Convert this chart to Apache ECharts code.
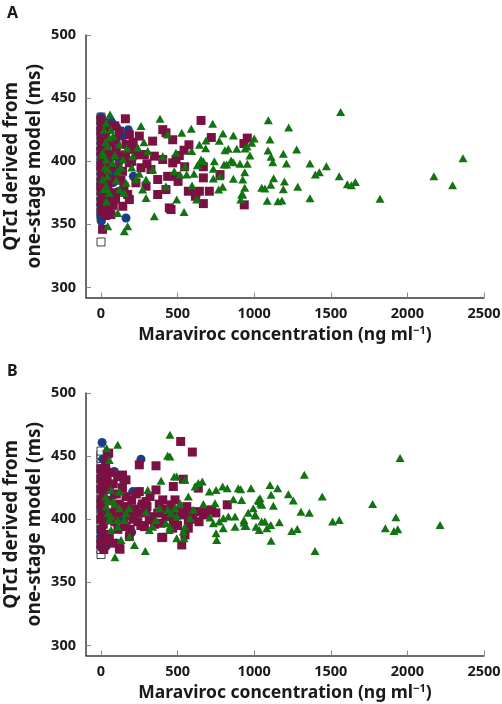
<!DOCTYPE html>
<html>
<head>
<meta charset="utf-8">
<script src="https://cdn.jsdelivr.net/npm/echarts@6/dist/echarts.min.js"></script>
<style>html,body{margin:0;padding:0;background:#fff}#c{width:502px;height:704px}</style>
</head>
<body>
<div id="c"></div>
<script>
// ---------- tick labels & titles ----------
const xTicks = [0, 500, 1000, 1500, 2000, 2500];
const yTicks = [300, 350, 400, 450, 500];
const yTitleLines = ['QTcI derived from', 'one-stage model (ms)'];
const panelLabels = ['A', 'B'];

// ---------- Panel A data [concentration, QTcI] ----------
const placeboA = [[0,336],[0,356],[0,360],[0,364],[0,368],[0,372],[0,376],[0,380],[0,384],[0,388],[0,392],[0,396],[0,400],[0,404],[0,408],[0,412],[0,416],[0,420],[0,424],[0,428],[0,432],[0,435]];
const blueA = [[0,435],[0,430],[0,425],[0,420],[0,415],[0,410],[0,405],[0,400],[0,395],[0,390],[0,385],[0,380],[0,375],[0,370],[0,365],[0,360],[0,356],[2,352.5],
  [30,431],[70,431],[102,427],[178,425],[144,420],[91,391],[102,385.5],[211,388],[113,376],[163,355],[120,400],[60,395],[80,383],[40,372]];
const maroonA = [[0,433],[5,428],[0,424],[10,420],[3,416],[15,412],[0,408],[8,404],[20,400],[0,396],[12,392],[4,388],[18,384],[0,380],[10,376],[25,372],[2,368],[15,364],[5,360],[30,357],[40,370],[45,380],[35,390],[50,400],[40,410],[30,420],[55,415],[60,405],[70,395],[65,385],[75,375],[80,365],[50,362],[10,346],[20,428],[40,425],
  [159,433.6],[37,425],[120,423.8],[185,421],[250,419.9],[337,415.9],[403,425],[424,422.5],[468,417],[163,413.3],[218,409.3],[283,405.3],[348,404],[403,401.3],[468,398.7],[131,404],[185,398.7],[261,394.8],[326,393.4],[370,385.5],[435,388],[424,377.5],[370,373.6],[294,380.2],[228,382.9],[174,373.6],[142,364.3],[185,369.6],[65,357.7],[446,363],[33,364.3],[54,385.5],[33,396],[22,411.9],[76,404],[98,417.2],[11,374.9],[87,372.2],
  [100,410],[140,392],[200,400],[240,405],[300,398],[150,380],[90,428],[110,395],[160,405],[210,415],[60,428],[130,385],[95,370],
  [653,432.3],[720,418.8],[955,418.3],[933,414],[574,413],[542,408.7],[511,404.5],[490,401.4],[546,395.6],[668,395.6],[777,389.4],[668,386.8],[490,388],[503,384],[570,376.2],[620,374.9],[642,376.2],[707,376.2],[616,372.2],[668,366.4],[935,365.4],[457,361.7]];
const greenA = [[1564,438.9],[1092,432.5],[1225,426.7],[1000,418],[1103,417.2],[1090,408.5],[1277,409.3],[1190,406],[1110,403.5],[1121,399.2],[1210,398.2],[1364,398.2],[1471,396],[2363,402.4],[1425,391.3],[1399,389.4],[1555,388],[2173,388],[1660,383.6],[1608,381.7],[1634,381],[2295,381],[1127,386.5],[1197,384],[1108,381.3],[1049,379],[1070,378.3],[1190,377.8],[1284,379.7],[1364,370.6],[1821,370.2],[1085,368.6],[1155,368.3],[1181,368.8],
  [940,410],[972,404.5],[955,398],[938,391.3],[925,385.5],[938,378.9],[918,373.6],[953,411.7],[984,414.6],
  [729,429.7],[589,425.7],[527,422.5],[796,422],[864,420.4],[685,416.4],[772,416.2],[642,413],[683,410.3],[831,409.9],[809,408.7],[886,409.9],[592,408],[740,400],[668,400],[653,401.3],[849,400.5],[864,399.2],[803,397.4],[820,397.4],[907,398],[629,396.8],[733,394],[548,396],[607,390],[559,389.4],[516,389.4],[777,388],[733,386.3],[864,386],[794,379.7],[768,377.5],[594,380.7],[925,373.6],[912,369.6],[624,369.6],[494,369.6],[542,359.8],
  [59,437],[261,427.8],[385,433.6],[435,421.2],[54,418.5],[120,413.3],[44,411.9],[240,410.6],[305,408],[33,401.3],[76,398.7],[142,401.3],[403,404],[337,393.4],[44,393.4],[109,392],[228,385.5],[163,382.9],[294,385.5],[54,374.9],[120,377.5],[272,377.5],[424,380.2],[294,370.9],[152,374.9],[348,356.3],[109,359],[44,348.4],[152,344.4],[174,348.4],[11,385.5],[11,406.6],[65,425],[33,430.5],[207,404],[489,406.6],[478,392],[33,380.2],
  [20,425],[30,415],[15,405],[25,395],[40,388],[20,378],[35,368],[80,420],[90,405],[100,385],[130,395],[170,410],[200,395],[250,390],[280,415]];

// ---------- Panel B data ----------
const placeboB = [[0,372],[0,376],[0,380],[0,384],[0,388],[0,392],[0,396],[0,400],[0,404],[0,408],[0,412],[0,416],[0,420],[0,424],[0,428],[0,432],[0,436],[0,440],[0,444],[0,448],[0,451],[0,454]];
const blueB = [[0,440],[0,432],[0,424],[0,416],[0,408],[0,400],[0,392],[0,384],[0,378],
  [7,460.8],[11,447.6],[33,440.5],[87,437.8],[148,430.4],[261,447.6],[265,412],[207,421.9],[87,419.3],[120,400],[0,386.2],[11,378.3],[33,378.3],[200,389.7],[102,381],[60,405]];
const maroonB = [[0,440],[5,436],[0,432],[10,428],[0,424],[15,420],[5,416],[0,412],[20,408],[8,404],[0,400],[15,396],[3,392],[25,388],[10,384],[0,380],[18,376],[30,384],[40,430],[60,437],[80,428],[100,420],[120,412],[140,425],[90,398],[110,392],[150,396],[180,403],[200,415],[220,408],[240,398],[260,405],[300,410],[330,402],[350,396],[380,412],[420,408],[480,400],[500,395],[520,404],[560,410],[600,400],[640,398],[700,407],[750,405],
  [130,405],[170,410],[210,400],[230,420],[270,412],[320,418],[190,392],[260,395],[60,415],[80,405],[140,435],[30,445],
  [50,452.4],[250,443.1],[359,442.3],[163,431.2],[109,433.8],[250,421.9],[359,423.2],[294,414],[403,415.3],[457,411.4],[294,407.4],[370,404.8],[424,402.1],[315,399.4],[392,396.8],[283,394.1],[468,392.9],[403,385.7],[120,377],[22,436.5],[54,425.9],[163,417.9],[98,410],[207,404.8],[33,399.4],[163,394.1],[54,386.2],[185,386.2],[76,381],[41,451.6],[124,376.2],[396,385.4],
  [520,461.6],[596,453.2],[537,431.7],[635,424.6],[472,425.9],[483,415.3],[824,411.4],[461,407.4],[504,406],[581,406],[635,406],[679,405.2],[722,407.4],[537,403.4],[668,403.4],[570,399.4],[472,398.1],[570,392.9],[548,387.5],[527,379.6]];
const greenB = [[1952,448.4],[1327,435.2],[1103,427.2],[1153,424.6],[979,424.6],[912,423.8],[1223,419.8],[1110,419.3],[1444,417.9],[1255,414.8],[1038,416.7],[1033,414.5],[1042,412.7],[1049,411.4],[918,415.3],[1125,410.6],[1773,412.1],[994,408.7],[961,405.2],[1010,402.9],[1305,406],[1360,405.2],[1925,401.6],[1049,398.1],[1070,398.1],[1164,397.6],[933,397.3],[940,394.7],[1108,395.5],[1512,398.1],[1555,399.4],[2213,395.5],[1033,391.5],[1082,392.9],[1245,390.7],[1281,392.3],[1856,392.9],[1912,390.7],[1937,392.1],[1110,383],[1397,374.8],
  [450,466.9],[450,449.7],[494,433.8],[548,431.2],[661,429.8],[635,428.6],[614,425.9],[707,421.9],[751,423.2],[794,425.9],[824,424.6],[896,424.6],[864,415.9],[1027,415.3],[570,417.9],[668,412.1],[744,412.7],[483,408.7],[516,412.7],[603,407.4],[1005,403.4],[494,402.1],[581,400.8],[711,401.3],[798,400.8],[831,402.1],[875,402.1],[933,399.4],[772,398.1],[733,396.8],[875,394.1],[946,394.7],[1012,394.1],[548,394.1],[798,392.9],[751,388.9],[537,390.2],[494,384.9],[542,384.9],[755,383.6],[450,394.1],
  [109,459],[37,456.3],[435,450.2],[392,430.4],[305,423.2],[478,433.8],[65,423.2],[44,415.3],[76,414],[120,408.7],[163,404.8],[44,404.8],[65,402.1],[54,399.4],[109,399.4],[152,399.4],[185,408.7],[381,408.7],[435,407.4],[457,404.8],[294,406],[65,391.5],[109,394.1],[185,386.2],[131,383.6],[218,379.6],[289,374.8],[91,369.9],[337,394.1],[315,391.5],[446,391.5],[359,399.4],[424,396.8],[33,410],[120,421.9],[54,447],[30,418],[90,412]];

// ---------- styling ----------
const FONT = '"Noto Sans", "DejaVu Sans", sans-serif';
const C_BLUE = '#153f86', C_MAROON = '#7a1142', C_GREEN = '#127312', AX = '#3a3a3a', TXT = '#1a1a1a';
const GRIDS = [{ top: 35 }, { top: 393 }];
const GRID_LEFT = 86, GRID_W = 398, GRID_H = 262.5;

function xAxisFor(gi) {
  return {
    gridIndex: gi, type: 'value', min: -98, max: 2500,
    name: 'Maraviroc concentration (ng ml{sup|\u22121})',
    nameLocation: 'middle', nameGap: 28,
    nameTextStyle: { fontFamily: FONT, fontWeight: 'bold', fontSize: 17.5, color: TXT,
      rich: { sup: { fontFamily: FONT, fontWeight: 'bold', fontSize: 11, color: TXT, verticalAlign: 'top', padding: [0,0,8,0] } } },
    axisLine: { show: true, onZero: false, lineStyle: { color: AX, width: 1.5 } },
    axisTick: { show: true, inside: true, length: 5, lineStyle: { color: '#888' }, customValues: xTicks },
    axisLabel: { fontFamily: FONT, fontWeight: 'bold', fontSize: 14.5, color: TXT, margin: 9, customValues: xTicks,
      formatter: v => String(Math.round(v)) },
    splitLine: { show: false }
  };
}
function yAxisFor(gi) {
  return {
    gridIndex: gi, type: 'value', min: 292, max: 500,
    axisLine: { show: true, onZero: false, lineStyle: { color: AX, width: 1.5 } },
    axisTick: { show: true, inside: true, length: 5, lineStyle: { color: '#888' }, customValues: yTicks },
    axisLabel: { fontFamily: FONT, fontWeight: 'bold', fontSize: 14.5, color: TXT, margin: 10, customValues: yTicks,
      formatter: v => String(Math.round(v)) },
    splitLine: { show: false }
  };
}
function seriesFor(gi, placebo, blue, maroon, green) {
  return [
    { type: 'scatter', xAxisIndex: gi, yAxisIndex: gi, data: placebo, symbol: 'rect', symbolSize: 8,
      itemStyle: { color: '#fff', borderColor: '#111', borderWidth: 1 }, silent: true },
    { type: 'scatter', xAxisIndex: gi, yAxisIndex: gi, data: blue, symbol: 'circle', symbolSize: 9,
      itemStyle: { color: C_BLUE, opacity: 1 }, silent: true },
    { type: 'scatter', xAxisIndex: gi, yAxisIndex: gi, data: maroon, symbol: 'rect', symbolSize: 9,
      itemStyle: { color: C_MAROON, opacity: 1 }, silent: true },
    { type: 'scatter', xAxisIndex: gi, yAxisIndex: gi, data: green, symbol: 'triangle', symbolSize: [9, 8],
      itemStyle: { color: C_GREEN, opacity: 1 }, silent: true }
  ];
}
function titleGraphics(gi) {
  const cy = GRIDS[gi].top + GRID_H / 2;
  const xs = [12, 35];
  const els = yTitleLines.map((t, i) => ({
    type: 'text', x: xs[i], y: cy, rotation: Math.PI / 2,
    style: { text: t, fontFamily: FONT, fontWeight: 'bold', fontSize: 19, fill: TXT, align: 'center', verticalAlign: 'middle' }
  }));
  els.push({ type: 'text', x: 7, y: GRIDS[gi].top - 30,
    style: { text: panelLabels[gi], fontFamily: FONT, fontWeight: 'bold', fontSize: 16, fill: TXT } });
  return els;
}

const chart = echarts.init(document.getElementById('c'), null, { renderer: 'canvas' });
chart.setOption({
  animation: false,
  backgroundColor: '#fff',
  grid: GRIDS.map(g => ({ left: GRID_LEFT, top: g.top, width: GRID_W, height: GRID_H, containLabel: false, outerBoundsMode: 'none' })),
  xAxis: [xAxisFor(0), xAxisFor(1)],
  yAxis: [yAxisFor(0), yAxisFor(1)],
  graphic: [].concat(titleGraphics(0), titleGraphics(1)),
  series: [].concat(
    seriesFor(0, placeboA, blueA, maroonA, greenA),
    seriesFor(1, placeboB, blueB, maroonB, greenB)
  )
});
</script>
</body>
</html>
